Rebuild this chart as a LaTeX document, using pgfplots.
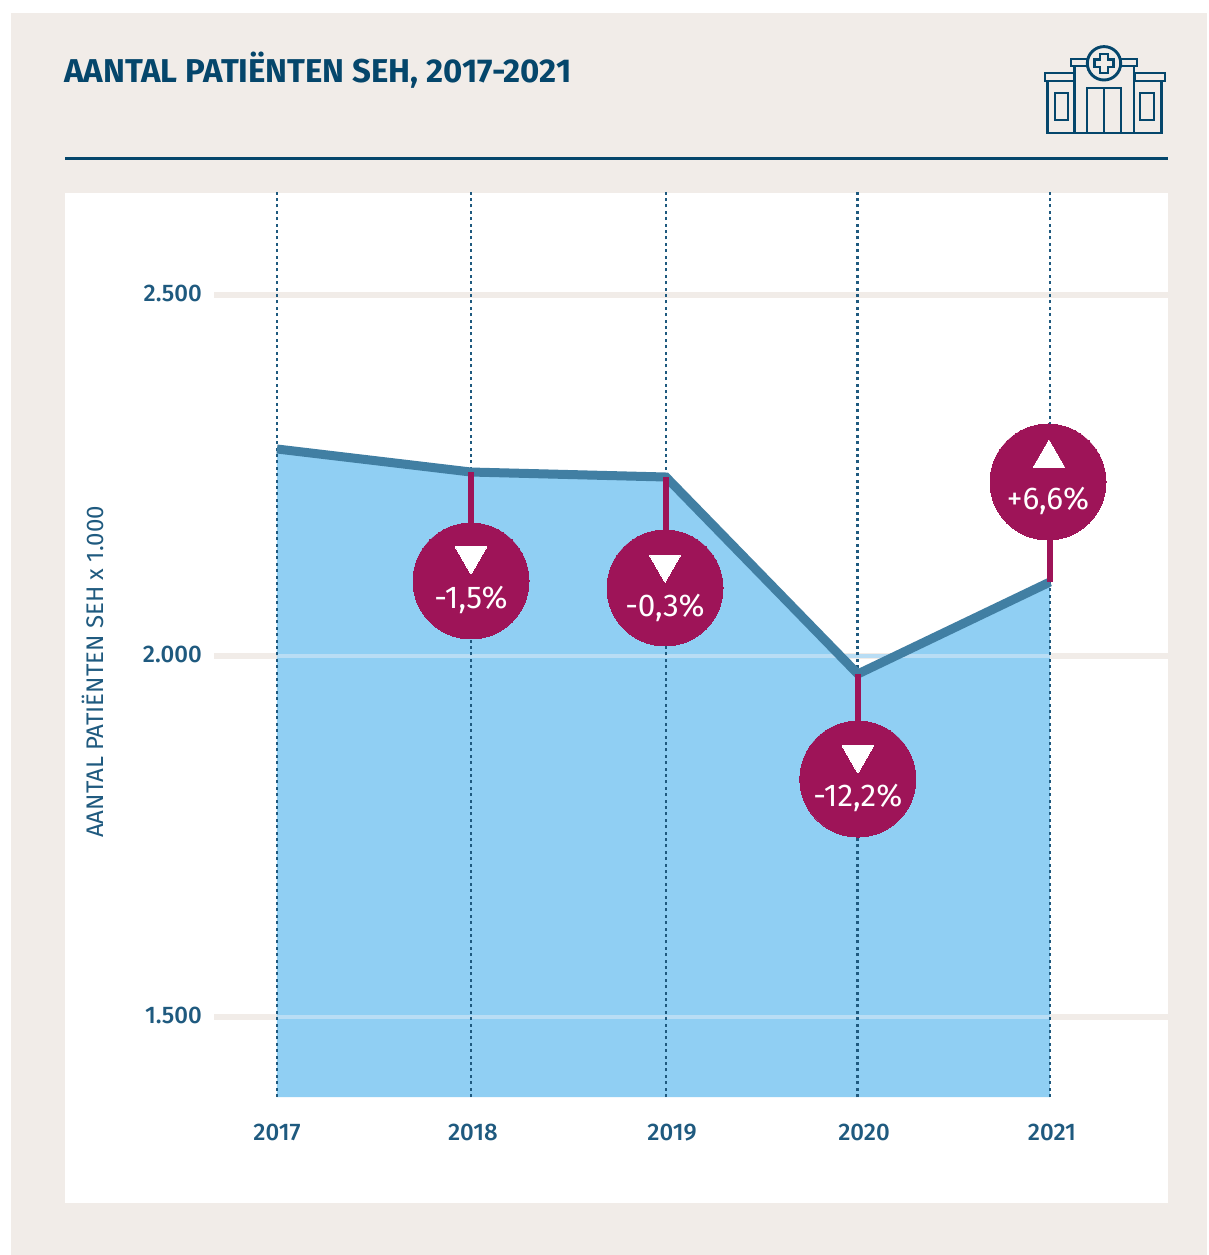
\documentclass[border=0pt]{standalone}
\usepackage{fontspec}
\setmainfont{Fira Sans}
\newfontfamily\medf{Fira Sans Medium}
\usepackage{pgfplots}
\pgfplotsset{compat=1.18}
\definecolor{navy}{HTML}{05466B}
\definecolor{ticknavy}{HTML}{1F5A7F}
\definecolor{bg}{HTML}{F1ECE8}
\definecolor{areac}{HTML}{90CFF3}
\definecolor{linec}{HTML}{417FA3}
\definecolor{crim}{HTML}{9E1458}
\definecolor{gridin}{HTML}{B9DDF4}
\begin{document}
\begin{tikzpicture}[x=1pt,y=1pt]
\fill[white] (0,0) rectangle (1208,-1255);
\fill[bg] (11,-13) rectangle (1207,-1255);
\fill[white] (65,-193) rectangle (1168,-1203);
\draw[navy,line width=3pt] (65,-158) -- (1168,-158);
\node[anchor=base west,inner sep=0pt,text=navy,font={\bfseries\fontsize{33}{36}\selectfont}] at (64,-82) {AANTAL PATIËNTEN SEH, 2017-2021};
\node[rotate=90,inner sep=0pt,text=ticknavy,font={\fontsize{24}{26}\selectfont}] at (93,-672) {AANTAL PATIËNTEN SEH x 1.000};
% icon
\begin{scope}[navy,line width=2.9pt,line join=miter]
\draw (1047.5,-81) -- (1047.5,-133) -- (1161.5,-133) -- (1161.5,-81);
\draw (1045,-73) rectangle (1074,-81);
\draw (1135,-73) rectangle (1165,-81);
\draw (1071,-59) rectangle (1137,-66);
\draw (1074.5,-66) -- (1074.5,-133);
\draw (1134,-66) -- (1134,-133);
\draw (1087,-133) -- (1087,-88) -- (1121,-88) -- (1121,-133);
\draw (1104,-88) -- (1104,-133);
\draw (1055,-93) rectangle (1068,-120);
\draw (1140,-93) rectangle (1154,-120);
\filldraw[fill=bg] (1104,-63.3) circle (16.7);
\draw (1100,-54) -- (1108,-54) -- (1108,-59.5) -- (1113.5,-59.5) -- (1113.5,-67) -- (1108,-67) -- (1108,-73) -- (1100,-73) -- (1100,-67) -- (1094.5,-67) -- (1094.5,-59.5) -- (1100,-59.5) -- cycle;
\end{scope}
\begin{axis}[
  at={(214pt,-1097pt)},anchor=south west,
  scale only axis,width=954pt,height=907pt,
  xmin=2016.674,xmax=2021.611,ymin=1389.2,ymax=2645.4,
  clip=false,
  axis line style={draw=none},
  major tick length=0pt,
  tick style={draw=none},
  xtick={2017,2018.014,2019.044,2020.038,2021.010},
  xticklabels={2017,2018,2019,2020,2021},
  ytick={1500,2000,2500},
  yticklabels={1.500,2.000,2.500},
  xticklabel style={anchor=center,yshift=-35pt,text depth=0pt,text=ticknavy,font={\medf\fontsize{24}{26}\selectfont}},
  yticklabel style={anchor=east,xshift=-12pt,yshift=2pt,inner sep=0pt,text=ticknavy,font={\medf\fontsize{24}{26}\selectfont}},
  xticklabel shift=0pt,yticklabel shift=0pt,
  xtick pos=bottom,ytick pos=left,
]
% gridlines
\addplot[bg,line width=5.5pt,forget plot] coordinates {(2016.674,2500) (2021.611,2500)};
\addplot[bg,line width=5.5pt,forget plot] coordinates {(2016.674,2000) (2021.611,2000)};
\addplot[bg,line width=5.5pt,forget plot] coordinates {(2016.674,1500) (2021.611,1500)};
% area
\addplot[fill=areac,draw=none,forget plot] coordinates {(2017,1389.2) (2017,2286.7) (2018.004,2254.8) (2019.013,2247.9) (2020.006,1975.1) (2021,2102.5) (2021,1389.2)} -- cycle;
\addplot[gridin,line width=4pt,forget plot] coordinates {(2017,2000) (2021,2000)};
\addplot[gridin,line width=4pt,forget plot] coordinates {(2017,1500) (2021,1500)};
% dotted verticals
\addplot[ticknavy,line width=2.8pt,dash pattern=on 3pt off 3.4pt,forget plot] coordinates {(2017,1389.2) (2017,2645.4)};
\addplot[ticknavy,line width=2.8pt,dash pattern=on 3pt off 3.4pt,forget plot] coordinates {(2018.004,1389.2) (2018.004,2645.4)};
\addplot[ticknavy,line width=2.8pt,dash pattern=on 3pt off 3.4pt,forget plot] coordinates {(2019.013,1389.2) (2019.013,2645.4)};
\addplot[ticknavy,line width=2.8pt,dash pattern=on 3pt off 3.4pt,forget plot] coordinates {(2020.006,1389.2) (2020.006,2645.4)};
\addplot[ticknavy,line width=2.8pt,dash pattern=on 3pt off 3.4pt,forget plot] coordinates {(2021,1389.2) (2021,2645.4)};
% series line
\addplot[linec,line width=9pt,miter limit=5,forget plot] coordinates {(2017,2286.7) (2018.004,2254.8) (2019.013,2247.9) (2020.006,1975.1) (2021,2102.5)};
% stems
\addplot[crim,line width=6.5pt,forget plot] coordinates {(2018.004,2254.8) (2018.004,2103.9)};
\addplot[crim,line width=6.5pt,forget plot] coordinates {(2019.013,2247.9) (2019.013,2094.2)};
\addplot[crim,line width=6.5pt,forget plot] coordinates {(2020.006,1975.1) (2020.006,1829.6)};
\addplot[crim,line width=6.5pt,forget plot] coordinates {(2021,2102.5) (2021,2241.0)};
% circles
\addplot[only marks,mark=*,mark size=58pt,mark options={fill=crim,draw=crim,line width=0pt},forget plot] coordinates {(2018.004,2103.9) (2019.008,2094.2) (2020.006,1829.6) (2020.990,2241.0)};
% triangles
\addplot[only marks,mark=triangle*,mark size=18pt,mark options={fill=white,draw=white,line width=0pt,rotate=180},forget plot] coordinates {(2018.004,2138.5) (2019.008,2127.4) (2020.006,1862.9)};
\addplot[only marks,mark=triangle*,mark size=18pt,mark options={fill=white,draw=white,line width=0pt},forget plot] coordinates {(2020.995,2274.2)};
% label anchors
\coordinate (la) at (axis cs:2018.004,2077.5);
\coordinate (lb) at (axis cs:2019.008,2066.4);
\coordinate (lc) at (axis cs:2020.006,1803.3);
\coordinate (ld) at (axis cs:2020.990,2214.7);
\end{axis}
\node[text=white,inner sep=0pt,font={\fontsize{31.5}{34}\selectfont}] at (la) {-1,5\%};
\node[text=white,inner sep=0pt,font={\fontsize{31.5}{34}\selectfont}] at (lb) {-0,3\%};
\node[text=white,inner sep=0pt,font={\fontsize{31.5}{34}\selectfont}] at (lc) {-12,2\%};
\node[text=white,inner sep=0pt,font={\fontsize{31.5}{34}\selectfont}] at (ld) {+6,6\%};
\end{tikzpicture}
\end{document}
